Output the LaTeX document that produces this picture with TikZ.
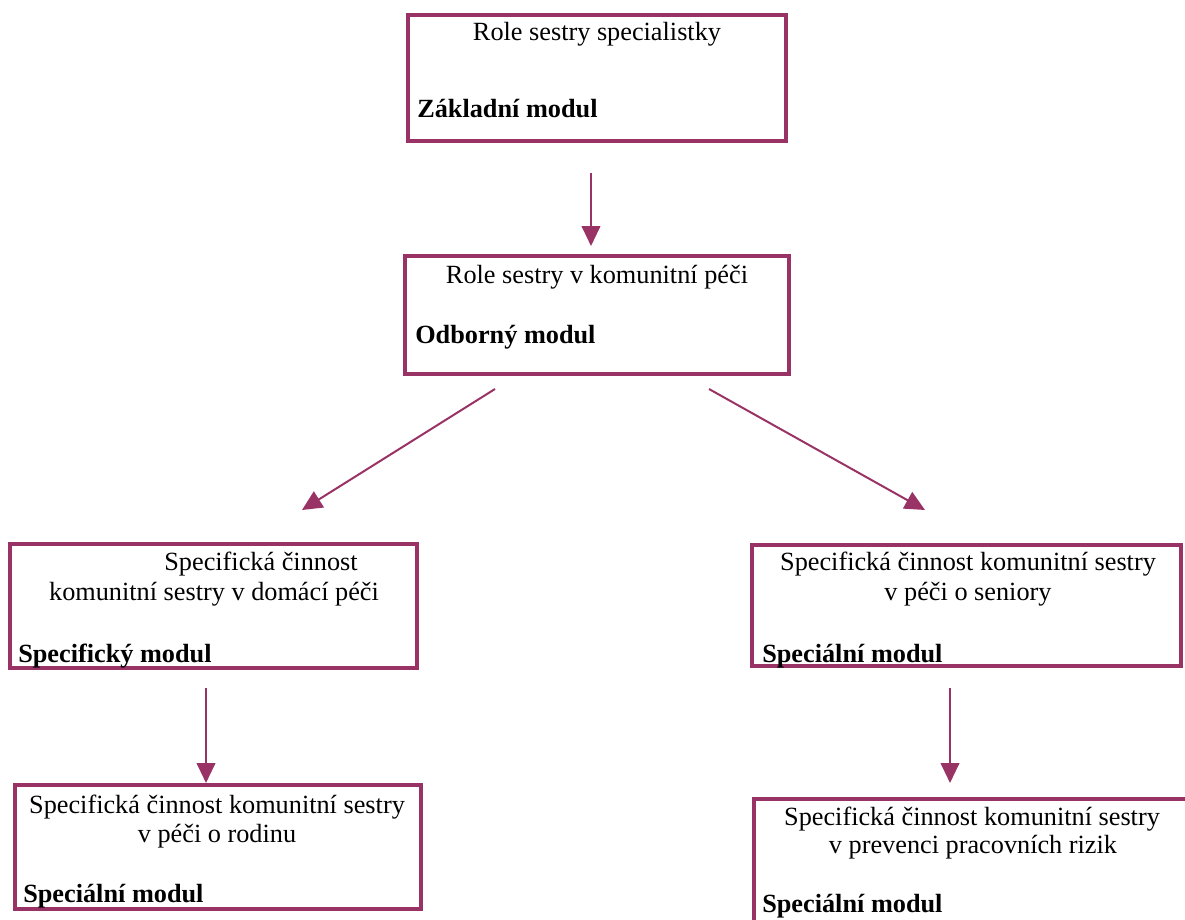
\documentclass[tikz,border=0pt]{standalone}
\usepackage{fontspec}
\setmainfont{Liberation Serif}
\usetikzlibrary{arrows.meta,fit}
\definecolor{plum}{HTML}{993366}
\begin{document}
\begin{tikzpicture}[x=0.75pt,y=-0.75pt,
  box/.style={draw=plum, line width=3pt, inner sep=0pt},
  flow/.style={draw=plum, line width=1.5pt, -{Triangle[length=15pt,width=14pt]}},
  title/.style={anchor=base, inner sep=0pt, font=\fontsize{19.7}{23}\selectfont},
  tag/.style={anchor=base west, inner sep=0pt, font=\fontsize{19.7}{23}\selectfont\bfseries}]
\useasboundingbox (0,0) rectangle (1185,920);
\clip (0,0) rectangle (1185,920);

% boxes
\node[box, fit={(408,15.3) (785.5,141.3)}] (b1) {};
\node[box, fit={(405,256) (788.5,374)}] (b2) {};
\node[box, fit={(10,544) (417,668)}] (b3) {};
\node[box, fit={(752,545) (1180.5,665.5)}] (b4) {};
\node[box, fit={(14.5,784.5) (421,909)}] (b5) {};
\node[box, fit={(754,798.5) (1210,950)}] (b6) {};

% box texts
\node[title] (t1) at (597,41) {Role sestry specialistky};
\node[tag] (m1) at (417,118) {Základní modul};

\node[title] (t2) at (597,283) {Role sestry v komunitní péči};
\node[tag] (m2) at (415,343) {Odborný modul};

\node[title] (t3a) at (261,570) {Specifická činnost};
\node[title] (t3b) at (214,600) {komunitní sestry v domácí péči};
\node[tag] (m3) at (18,662) {Specifický modul};

\node[title] (t4a) at (968,570) {Specifická činnost komunitní sestry};
\node[title] (t4b) at (968,600) {v péči o seniory};
\node[tag] (m4) at (762,662) {Speciální modul};

\node[title] (t5a) at (217,813) {Specifická činnost komunitní sestry};
\node[title] (t5b) at (217,842) {v péči o rodinu};
\node[tag] (m5) at (23,902) {Speciální modul};

\node[title] (t6a) at (972,825) {Specifická činnost komunitní sestry};
\node[title] (t6b) at (973,853) {v prevenci pracovních rizik};
\node[tag] (m6) at (762,912) {Speciální modul};

% connector end points (arrows stop short of the boxes)
\coordinate (a1s) at (591,173);  \coordinate (a1e) at (591,246);
\coordinate (a2s) at (495,389);  \coordinate (a2e) at (302,510);
\coordinate (a3s) at (709,389);  \coordinate (a3e) at (925,510);
\coordinate (a4s) at (206,688);  \coordinate (a4e) at (206,783);
\coordinate (a5s) at (950,688);  \coordinate (a5e) at (950,783);

\draw[flow] (a1s) -- (a1e);
\draw[flow] (a2s) -- (a2e);
\draw[flow] (a3s) -- (a3e);
\draw[flow] (a4s) -- (a4e);
\draw[flow] (a5s) -- (a5e);
\end{tikzpicture}
\end{document}
